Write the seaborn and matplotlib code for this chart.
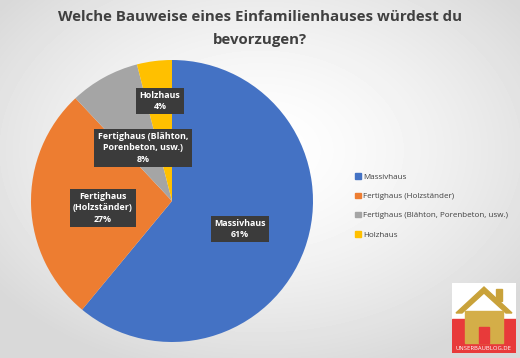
import numpy as np
import matplotlib
matplotlib.use("Agg")
import matplotlib.pyplot as plt
import matplotlib.patches as mpatches
import seaborn as sns

categories = ["Massivhaus", "Fertighaus (Holzständer)",
              "Fertighaus (Blähton, Porenbeton, usw.)", "Holzhaus"]
shares = [61, 27, 8, 4]
slice_labels = ["Massivhaus\n61%", "Fertighaus\n(Holzständer)\n27%",
                "Fertighaus (Blähton,\nPorenbeton, usw.)\n8%", "Holzhaus\n4%"]
colors = ["#4472C4", "#ED7D31", "#A5A5A5", "#FFC000"]

sns.set_theme(style="white")
plt.rcParams["font.family"] = ["Open Sans", "DejaVu Sans"]

W, H = 520, 358
fig = plt.figure(figsize=(W / 100, H / 100), dpi=100)

# background: soft radial gradient, darker toward the bottom
bg = fig.add_axes([0, 0, 1, 1])
yy, xx = np.mgrid[0:H, 0:W]
d = np.sqrt(((xx - 260) / 330) ** 2 + ((yy - 150) / 230) ** 2)
grad = 1.0 - 0.15 * np.clip(d, 0, 1) ** 1.5
bg.imshow(grad, cmap="gray", vmin=0, vmax=1, extent=[0, W, H, 0], aspect="auto")
bg.axis("off")

fig.text(0.5, 1 - 17 / H, "Welche Bauweise eines Einfamilienhauses würdest du",
         ha="center", va="center", fontsize=10.8, fontweight="bold", color="#404040")
fig.text(0.5, 1 - 40 / H, "bevorzugen?",
         ha="center", va="center", fontsize=10.8, fontweight="bold", color="#404040")

# pie
cx, cy, r = 172, 201, 141
ax = fig.add_axes([(cx - r) / W, (H - cy - r) / H, 2 * r / W, 2 * r / H])
wedges, _ = ax.pie(shares, colors=colors, startangle=90, counterclock=False,
                   radius=1, wedgeprops=dict(linewidth=0))
ax.set_xlim(-1, 1)
ax.set_ylim(-1, 1)
ax.set_aspect("equal")
ax.axis("off")

# label positions in pixels of the picture
label_px = [(240, 229), (103, 208), (143, 148), (160, 101)]
for lab, (px, py) in zip(slice_labels, label_px):
    ax.text((px - cx) / r, (cy - py) / r, lab, ha="center", va="center",
            fontsize=6.4, fontweight="bold", color="white", linespacing=1.3,
            bbox=dict(boxstyle="square,pad=0.38", fc="#3b3b3b", ec="none"))

# legend
handles = [mpatches.Patch(color=c, label=n) for c, n in zip(colors, categories)]
fig.legend(handles=handles, loc="center left",
           bbox_to_anchor=(348 / W, 1 - 206 / H), frameon=False,
           fontsize=5.8, handlelength=0.7, handleheight=0.7,
           handletextpad=0.3, labelspacing=1.45, labelcolor="#404040")

# logo
lg = fig.add_axes([452 / W, (H - 353) / H, 64 / W, 70 / H])
lg.set_xlim(0, 64)
lg.set_ylim(0, 70)
lg.add_patch(mpatches.Rectangle((0, 0), 64, 70, color="white"))
lg.add_patch(mpatches.Rectangle((0, 0), 64, 34, color="#E83A3A"))
lg.add_patch(mpatches.Polygon([(4, 40), (32, 66), (60, 40), (54, 40), (32, 60), (10, 40)],
                              color="#C9A23A"))
lg.add_patch(mpatches.Rectangle((13, 10), 38, 32, color="#D4AE48"))
lg.add_patch(mpatches.Rectangle((27, 10), 10, 16, color="#E83A3A"))
lg.add_patch(mpatches.Rectangle((44, 52), 6, 12, color="#C9A23A"))
lg.text(32, 4, "UNSERBAUBLOG.DE", ha="center", va="center", fontsize=4.2,
        color="white")
lg.axis("off")

fig.savefig("out.png", dpi=100)
